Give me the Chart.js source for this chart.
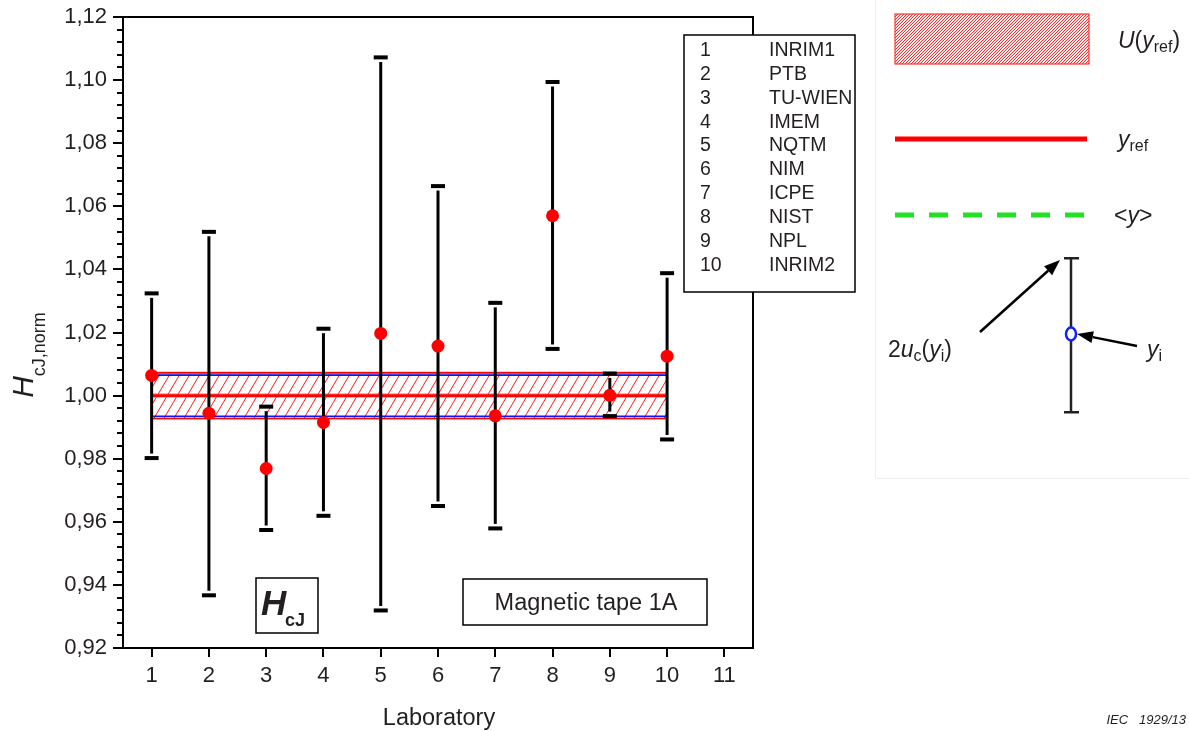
<!DOCTYPE html>
<html>
<head>
<meta charset="utf-8">
<script src="https://cdn.jsdelivr.net/npm/chart.js@4.4.1/dist/chart.umd.min.js"></script>
<style>
  html, body { margin: 0; padding: 0; background: #fff; }
  #wrap { width: 1189px; height: 731px; }
</style>
</head>
<body>
<div id="wrap"><canvas id="chart" width="1189" height="731"></canvas></div>
<script>
const labs = [1, 2, 3, 4, 5, 6, 7, 8, 9, 10];
const labNames = ['INRIM1', 'PTB', 'TU-WIEN', 'IMEM', 'NQTM', 'NIM', 'ICPE', 'NIST', 'NPL', 'INRIM2'];
const hcjNorm = [1.0064, 0.9944, 0.9769, 0.9915, 1.0197, 1.0157, 0.9936, 1.0570, 1.0001, 1.0125];
const errUpper = [1.0324, 1.0519, 0.9965, 1.0212, 1.1072, 1.0664, 1.0294, 1.0994, 1.0070, 1.0388];
const errLower = [0.9802, 0.9367, 0.9574, 0.9619, 0.9319, 0.9650, 0.9579, 1.0148, 0.9935, 0.9861];
const yRef = 1.000;
const uRefBand = [0.9927, 1.0073];
const innerBand = [0.9934, 1.0065];
const meanY = 1.0070;
const xTicks = [1, 2, 3, 4, 5, 6, 7, 8, 9, 10, 11];
const yTicks = [0.92, 0.94, 0.96, 0.98, 1.00, 1.02, 1.04, 1.06, 1.08, 1.10, 1.12];

const FONT = '"Liberation Sans", Arial, sans-serif';
const TXT = '#231f20';

function makeHatch(w, h, color, lw, bg) {
  const c = document.createElement('canvas');
  c.width = w; c.height = h;
  const g = c.getContext('2d');
  if (bg) { g.fillStyle = bg; g.fillRect(0, 0, w, h); }
  g.strokeStyle = color; g.lineWidth = lw;
  for (const off of [-w, 0, w]) {
    g.beginPath();
    g.moveTo(off - w, 2 * h);
    g.lineTo(off + 2 * w, -h);
    g.stroke();
  }
  return c;
}

// draws runs of differently styled text from a left baseline point
function rich(ctx, parts, x, y) {
  let cx = x;
  parts.forEach(p => {
    ctx.font = p.f;
    ctx.fillText(p.t, cx, y + (p.dy || 0));
    cx += ctx.measureText(p.t).width;
  });
  return cx - x;
}
function richWidth(ctx, parts) {
  let w = 0;
  parts.forEach(p => { ctx.font = p.f; w += ctx.measureText(p.t).width; });
  return w;
}

function arrow(ctx, x1, y1, x2, y2) {
  const ang = Math.atan2(y2 - y1, x2 - x1);
  const hl = 16, hw = 6;
  const bx = x2 - hl * Math.cos(ang), by = y2 - hl * Math.sin(ang);
  ctx.beginPath();
  ctx.moveTo(x1, y1); ctx.lineTo(bx, by);
  ctx.stroke();
  ctx.beginPath();
  ctx.moveTo(x2, y2);
  ctx.lineTo(bx + hw * Math.sin(ang), by - hw * Math.cos(ang));
  ctx.lineTo(bx - hw * Math.sin(ang), by + hw * Math.cos(ang));
  ctx.closePath();
  ctx.fill();
}

const overlay = {
  id: 'overlay',
  beforeDatasetsDraw(chart) {
    const { ctx, scales: { x, y } } = chart;
    const x0 = x.getPixelForValue(labs[0]);
    const x1 = x.getPixelForValue(labs[labs.length - 1]);
    const yt = y.getPixelForValue(uRefBand[1]);
    const yb = y.getPixelForValue(uRefBand[0]);
    ctx.save();
    // hatched U(yref) band
    ctx.fillStyle = ctx.createPattern(makeHatch(10, 17, '#ff1a1a', 1, '#ffffff'), 'repeat');
    ctx.fillRect(x0, yt, x1 - x0, yb - yt);
    // <y> line (mostly hidden under blue)
    ctx.strokeStyle = '#22cc22'; ctx.lineWidth = 1.5;
    ctx.beginPath(); ctx.moveTo(x0, y.getPixelForValue(meanY)); ctx.lineTo(x1, y.getPixelForValue(meanY)); ctx.stroke();
    // blue inner lines
    ctx.strokeStyle = '#0a14ff'; ctx.lineWidth = 1.8;
    innerBand.forEach(v => {
      const py = y.getPixelForValue(v);
      ctx.beginPath(); ctx.moveTo(x0, py); ctx.lineTo(x1, py); ctx.stroke();
    });
    // band outline
    ctx.strokeStyle = '#ff0000'; ctx.lineWidth = 1.5;
    ctx.strokeRect(x0, yt, x1 - x0, yb - yt);
    // yref line
    const pr = y.getPixelForValue(yRef);
    ctx.strokeStyle = 'rgba(255,80,80,0.6)'; ctx.lineWidth = 4.5;
    ctx.beginPath(); ctx.moveTo(x0, pr); ctx.lineTo(x1, pr); ctx.stroke();
    ctx.strokeStyle = '#ff0000'; ctx.lineWidth = 2.8;
    ctx.beginPath(); ctx.moveTo(x0, pr); ctx.lineTo(x1, pr); ctx.stroke();

    // error bars
    ctx.strokeStyle = '#000'; ctx.fillStyle = '#000'; ctx.lineWidth = 3;
    labs.forEach((l, i) => {
      const px = x.getPixelForValue(l);
      const pt = y.getPixelForValue(errUpper[i]);
      const pb = y.getPixelForValue(errLower[i]);
      ctx.beginPath(); ctx.moveTo(px, pt + 4.5); ctx.lineTo(px, pb - 4.5); ctx.stroke();
      ctx.fillRect(px - 7, pt - 2, 14, 4);
      ctx.fillRect(px - 7, pb - 2, 14, 4);
    });
    ctx.restore();
  },
  afterDraw(chart) {
    const { ctx, chartArea: a, scales: { x, y } } = chart;
    ctx.save();
    // tick marks
    ctx.strokeStyle = '#000'; ctx.lineWidth = 2;
    for (let k = 0; k <= 50; k++) {
      const v = 0.92 + k * 0.004;
      const py = Math.round(y.getPixelForValue(v));
      const len = (k % 5 === 0) ? 10 : 6;
      ctx.beginPath(); ctx.moveTo(a.left - len, py); ctx.lineTo(a.left, py); ctx.stroke();
    }
    xTicks.forEach(v => {
      const px = Math.round(x.getPixelForValue(v));
      ctx.beginPath(); ctx.moveTo(px, a.bottom); ctx.lineTo(px, a.bottom + 9); ctx.stroke();
    });
    // frame
    ctx.lineWidth = 2;
    ctx.strokeRect(a.left, a.top, a.right - a.left, a.bottom - a.top);

    // laboratory list box
    ctx.fillStyle = '#fff';
    ctx.fillRect(684, 35, 171, 257);
    ctx.lineWidth = 1.5; ctx.strokeStyle = '#000';
    ctx.strokeRect(684, 35, 171, 257);
    ctx.fillStyle = TXT;
    ctx.font = '19.5px ' + FONT;
    ctx.textBaseline = 'alphabetic';
    labNames.forEach((n, i) => {
      const by = 56 + i * 23.85;
      ctx.textAlign = 'left';
      ctx.fillText(String(labs[i]), 700, by);
      ctx.fillText(n, 769, by);
    });

    // H_cJ box
    ctx.strokeRect(256, 578, 62, 55);
    rich(ctx, [{ t: 'H', f: 'italic bold 35px ' + FONT }], 261, 615);
    rich(ctx, [{ t: 'cJ', f: 'bold 18px ' + FONT }], 285, 626);

    // Magnetic tape box
    ctx.strokeRect(463, 579, 244, 46);
    ctx.font = '23.5px ' + FONT;
    ctx.textAlign = 'center';
    ctx.fillText('Magnetic tape 1A', 586, 610);

    // axis titles
    ctx.fillText('Laboratory', 439, 725);
    ctx.textAlign = 'left';
    const yTitle = [
      { t: 'H', f: 'italic 30px ' + FONT },
      { t: 'cJ,norm', f: '18px ' + FONT, dy: 12 }
    ];
    ctx.save();
    ctx.translate(33, 355);
    ctx.rotate(-Math.PI / 2);
    rich(ctx, yTitle, -richWidth(ctx, yTitle) / 2, 0);
    ctx.restore();

    // right-hand key
    ctx.strokeStyle = '#f0f0f0'; ctx.lineWidth = 1;
    ctx.beginPath(); ctx.moveTo(875.5, 0); ctx.lineTo(875.5, 478.5); ctx.lineTo(1189, 478.5); ctx.stroke();

    ctx.fillStyle = ctx.createPattern(makeHatch(3, 3, '#ff2a2a', 1, '#ffecec'), 'repeat');
    ctx.fillRect(895, 14, 194, 50);
    ctx.strokeStyle = '#ff3030'; ctx.lineWidth = 1.2;
    ctx.strokeRect(895, 14, 194, 50);

    ctx.fillStyle = TXT;
    rich(ctx, [
      { t: 'U', f: 'italic 23px ' + FONT },
      { t: '(', f: '23px ' + FONT },
      { t: 'y', f: 'italic 23px ' + FONT },
      { t: 'ref', f: '16px ' + FONT, dy: 4 },
      { t: ')', f: '23px ' + FONT }
    ], 1118, 48);

    ctx.strokeStyle = '#ff0000'; ctx.lineWidth = 5;
    ctx.beginPath(); ctx.moveTo(895, 139); ctx.lineTo(1087, 139); ctx.stroke();
    rich(ctx, [
      { t: 'y', f: 'italic 23px ' + FONT },
      { t: 'ref', f: '16px ' + FONT, dy: 4 }
    ], 1118, 147);

    ctx.strokeStyle = '#22e022'; ctx.lineWidth = 5;
    ctx.setLineDash([19, 15]);
    ctx.beginPath(); ctx.moveTo(895, 215); ctx.lineTo(1084, 215); ctx.stroke();
    ctx.setLineDash([]);
    rich(ctx, [
      { t: '<', f: '23px ' + FONT },
      { t: 'y', f: 'italic 23px ' + FONT },
      { t: '>', f: '23px ' + FONT }
    ], 1114, 223);

    // error bar key
    ctx.strokeStyle = '#222'; ctx.fillStyle = '#222'; ctx.lineWidth = 2.5;
    ctx.beginPath(); ctx.moveTo(1071, 258); ctx.lineTo(1071, 412); ctx.stroke();
    ctx.fillRect(1064, 257, 15, 2.5);
    ctx.fillRect(1064, 411, 15, 2.5);
    ctx.fillStyle = '#fff';
    ctx.beginPath(); ctx.ellipse(1071, 334, 5, 6.5, 0, 0, Math.PI * 2); ctx.fill();
    ctx.strokeStyle = '#1020ff'; ctx.lineWidth = 2.5;
    ctx.stroke();
    ctx.strokeStyle = '#000'; ctx.fillStyle = '#000'; ctx.lineWidth = 2.5;
    arrow(ctx, 980, 332, 1060, 260);
    arrow(ctx, 1137, 346, 1077, 334);
    ctx.fillStyle = TXT;
    rich(ctx, [
      { t: '2', f: '23px ' + FONT },
      { t: 'u', f: 'italic 23px ' + FONT },
      { t: 'c', f: '16px ' + FONT, dy: 4 },
      { t: '(', f: '23px ' + FONT },
      { t: 'y', f: 'italic 23px ' + FONT },
      { t: 'i', f: '16px ' + FONT, dy: 4 },
      { t: ')', f: '23px ' + FONT }
    ], 888, 357);
    rich(ctx, [
      { t: 'y', f: 'italic 23px ' + FONT },
      { t: 'i', f: '16px ' + FONT, dy: 4 }
    ], 1147, 357);

    ctx.font = 'italic 13px ' + FONT;
    ctx.textAlign = 'right';
    ctx.fillText('IEC   1929/13', 1186, 724);
    ctx.restore();
  }
};

new Chart(document.getElementById('chart').getContext('2d'), {
  type: 'scatter',
  data: {
    datasets: [{
      data: labs.map((l, i) => ({ x: l, y: hcjNorm[i] })),
      backgroundColor: '#ff0000',
      borderWidth: 0,
      pointRadius: 6.5,
      pointHoverRadius: 6.5
    }]
  },
  options: {
    responsive: false,
    animation: false,
    events: [],
    layout: { padding: { left: 0, top: 17, right: 436, bottom: 0 } },
    plugins: { legend: { display: false }, tooltip: { enabled: false } },
    scales: {
      x: {
        type: 'linear', min: 0.5, max: 11.5,
        afterBuildTicks: s => { s.ticks = xTicks.map(v => ({ value: v })); },
        afterFit: s => { s.height = 83; s.paddingLeft = 0; s.paddingRight = 0; },
        grid: { display: false, drawTicks: false },
        border: { display: false },
        ticks: { padding: 15, color: TXT, font: { family: FONT, size: 22 }, autoSkip: false, maxRotation: 0, callback: v => String(v) }
      },
      y: {
        type: 'linear', min: 0.92, max: 1.12,
        afterBuildTicks: s => { s.ticks = yTicks.map(v => ({ value: v })); },
        afterFit: s => { s.width = 123; s.paddingTop = 0; s.paddingBottom = 0; },
        grid: { display: false, drawTicks: false },
        border: { display: false },
        ticks: { padding: 16, color: TXT, font: { family: FONT, size: 22 }, autoSkip: false, callback: v => v.toFixed(2).replace('.', ',') }
      }
    }
  },
  plugins: [overlay]
});
</script>
</body>
</html>
